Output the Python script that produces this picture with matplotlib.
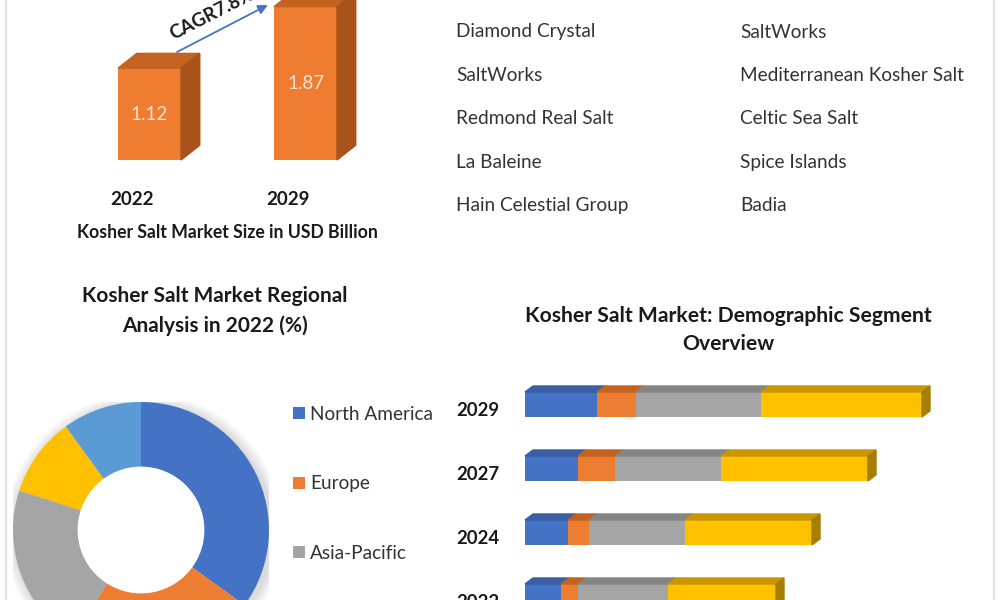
import matplotlib
matplotlib.use("Agg")

import matplotlib.pyplot as plt
import numpy as np
from matplotlib.patches import Polygon, Circle
from matplotlib.lines import Line2D

W, H = 1000, 600

# market size (USD billion)
size_years = ["2022", "2029"]
market_size = [1.12, 1.87]
cagr_label = "CAGR7.8%"
size_caption = "Kosher Salt Market Size in USD Billion"

# key players
players_left = ["Diamond Crystal", "SaltWorks", "Redmond Real Salt", "La Baleine",
                "Hain Celestial Group"]
players_right = ["SaltWorks", "Mediterranean Kosher Salt", "Celtic Sea Salt",
                 "Spice Islands", "Badia"]

# regional share 2022 (%)
regions = ["North America", "Europe", "Asia-Pacific", "Middle East and Africa",
           "South America"]
region_share = [35, 24, 21, 10, 10]
region_colors = ["#4472C4", "#ED7D31", "#A5A5A5", "#FFC000", "#5B9BD5"]

# demographic segments (relative size)
seg_years = ["2022", "2024", "2027", "2029"]
seg_names = ["Segment 1", "Segment 2", "Segment 3", "Segment 4"]
seg_1 = [36, 43, 53, 72]
seg_2 = [17, 21, 37, 39]
seg_3 = [90, 96, 106, 125]
seg_4 = [108, 127, 147, 161]
seg_front = ["#4472C4", "#ED7D31", "#A5A5A5", "#FFC000"]
seg_top = ["#3A5FA5", "#C4621F", "#858585", "#C99700"]

plt.rcParams["font.family"] = ["Lato", "DejaVu Sans"]
TXT = "#1A1A1A"


def box(left, top, w, h):
    return [left / W, 1 - (top + h) / H, w / W, h / H]


fig = plt.figure(figsize=(10, 6), dpi=100)
fig.patch.set_facecolor("white")

# ---- top left: 3D column chart ----
ax1 = fig.add_axes(box(60, -20, 360, 220))
ax1.axis("off")
ax1.set_xlim(-0.574, 1.734)
ax1.set_ylim(-0.488, 2.195)
bw, ddx, ddy = 0.404, 0.12, 0.18
xs = np.arange(len(market_size))
bars = ax1.bar(xs, market_size, width=bw, color="#EE7D31", zorder=2)
for b, v, yr in zip(bars, market_size, size_years):
    x0, x1 = b.get_x(), b.get_x() + b.get_width()
    ax1.add_patch(Polygon([(x0, v), (x1, v), (x1 + ddx, v + ddy), (x0 + ddx, v + ddy)],
                          closed=True, color="#C4621F", zorder=2))
    ax1.add_patch(Polygon([(x1, 0), (x1, v), (x1 + ddx, v + ddy), (x1 + ddx, ddy)],
                          closed=True, color="#A8531A", zorder=2))
    ax1.text(x0 + bw / 2, v / 2, f"{v:.2f}", color="#FCE4D6", fontsize=13.5,
             ha="center", va="center", zorder=3)
    ax1.text(x0 + bw / 2 - 0.11, -0.488, yr, color=TXT, fontsize=13.5,
             fontweight="bold", ha="center", va="center")

ax1.annotate("", xy=(1 - bw / 2 - 0.04, market_size[1] + 0.02),
             xytext=(bw / 2 - 0.026, market_size[0] + 0.197),
             arrowprops=dict(arrowstyle="-|>", color="#4472C4", lw=1.3,
                             mutation_scale=14, shrinkA=0, shrinkB=0))
ax1.text(0.40, 1.78, cagr_label, rotation=27, rotation_mode="anchor",
         ha="center", va="center", fontsize=13.5, fontweight="bold", color=TXT)
fig.text(227 / W, 1 - 232 / H, size_caption, ha="center", va="center",
         fontsize=12.7, fontweight="bold", color=TXT)

# ---- top right: key players ----
for i, (a, b) in enumerate(zip(players_left, players_right)):
    yy = 1 - (32 + i * 43.5) / H
    fig.text(456 / W, yy, a, ha="left", va="center", fontsize=13.7, color="#333333")
    fig.text(740 / W, yy, b, ha="left", va="center", fontsize=13.7, color="#333333")

# ---- bottom left: donut ----
fig.text(215 / W, 1 - 311 / H, "Kosher Salt Market Regional\nAnalysis in 2022 (%)",
         ha="center", va="center", fontsize=15, fontweight="bold", color=TXT,
         linespacing=1.55)
ax2 = fig.add_axes(box(13, 402, 256, 256))
for k in range(6):
    ax2.add_patch(Circle((0.02, -0.02), 1.0 + 0.015 * (k + 1), color="#000000",
                         alpha=0.022, lw=0, zorder=0))
wedges, _ = ax2.pie(region_share, colors=region_colors, startangle=90,
                    counterclock=False, radius=1.0,
                    wedgeprops=dict(width=0.51, edgecolor="none"))
ax2.add_patch(Circle((0, 0), 0.49, color="white", zorder=5))
ax2.set_xlim(-1, 1)
ax2.set_ylim(-1, 1)
ax2.axis("off")
fig.legend(wedges, regions, loc="upper left", bbox_to_anchor=(276 / W, 1 - 389 / H),
           frameon=False, fontsize=13.7, handlelength=0.6, handleheight=0.6,
           handletextpad=0.3, labelspacing=2.75, labelcolor="#333333")

# ---- bottom right: stacked 3D bars ----
fig.text(728 / W, 1 - 330 / H, "Kosher Salt Market: Demographic Segment\nOverview",
         ha="center", va="center", fontsize=15.2, fontweight="bold", color=TXT,
         linespacing=1.5)
ax3 = fig.add_axes(box(440, 370, 560, 270))
ax3.axis("off")
ax3.set_xlim(-85, 475)
ax3.set_ylim(-0.68, 3.539)
bh, sdx, sdy = 0.39, 8, 0.094
ys = np.arange(len(seg_years))
left = np.zeros(len(seg_years))
for vals, name, fc, tc in zip([seg_1, seg_2, seg_3, seg_4], seg_names, seg_front, seg_top):
    vals = np.array(vals, dtype=float)
    ax3.barh(ys, vals, left=left, height=bh, color=fc, label=name, zorder=2)
    for y, l0, v in zip(ys, left, vals):
        t = y + bh / 2
        ax3.add_patch(Polygon([(l0, t), (l0 + v, t), (l0 + v + sdx, t + sdy),
                               (l0 + sdx, t + sdy)], closed=True, color=tc, zorder=2))
    left = left + vals
for y, end in zip(ys, left):
    b0, t = y - bh / 2, y + bh / 2
    ax3.add_patch(Polygon([(end, b0), (end, t), (end + sdx, t + sdy), (end + sdx, b0 + sdy)],
                          closed=True, color="#A67F00", zorder=2))
for y, yr in zip(ys, seg_years):
    ax3.text(-26, y - 0.09, yr, ha="right", va="center", fontsize=13.3,
             fontweight="bold", color=TXT)

# panel borders
for xb in (6, 994):
    fig.add_artist(Line2D([xb / W, xb / W], [0, 1], color="#E2E2E2", lw=1.5,
                          transform=fig.transFigure))

fig.savefig("out.png", dpi=100)
